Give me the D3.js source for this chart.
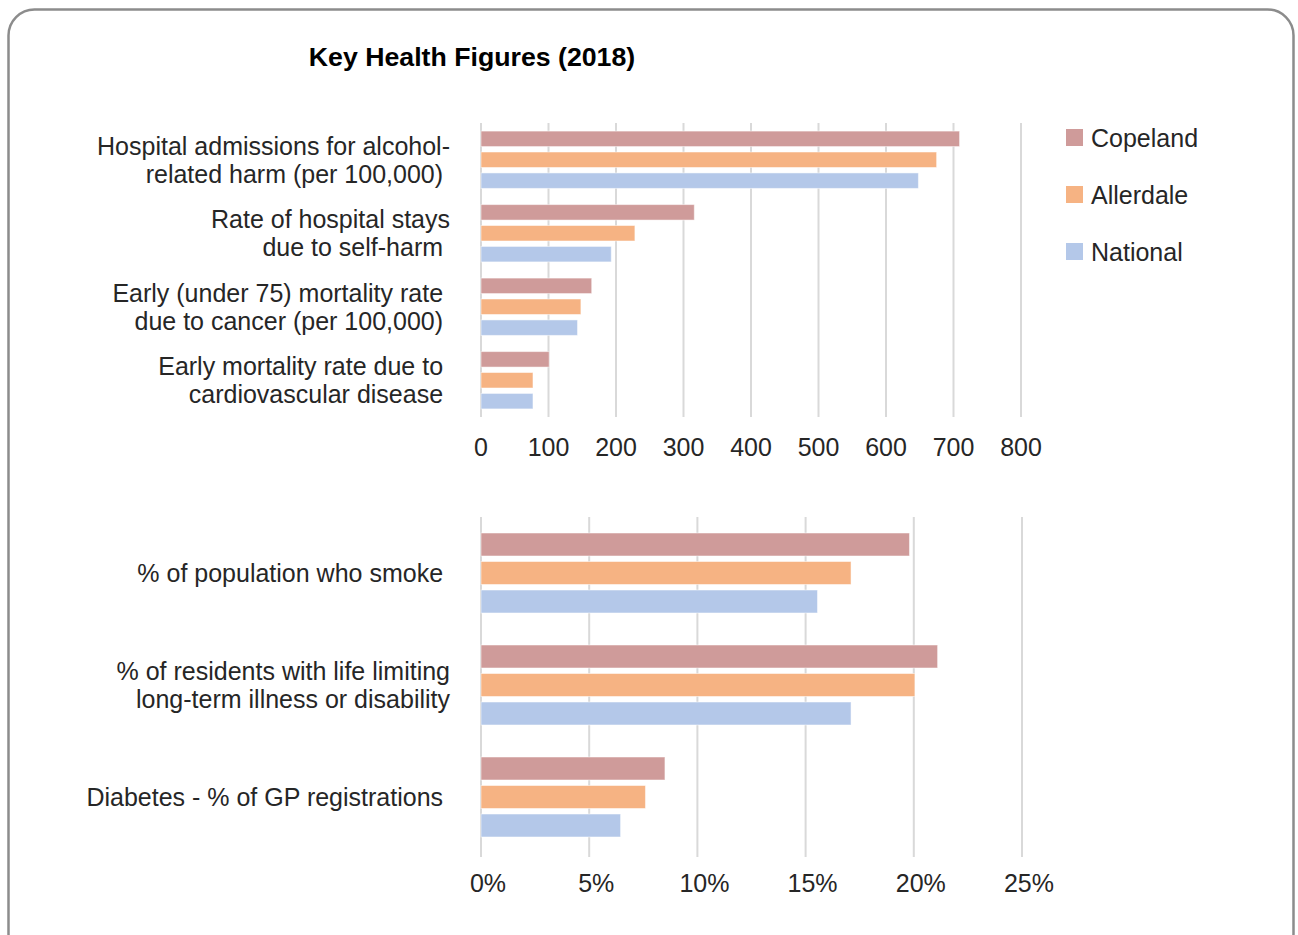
<!DOCTYPE html>
<html>
<head>
<meta charset="utf-8">
<script src="https://cdn.jsdelivr.net/npm/d3@7"></script>
<style>
  body { margin: 0; background: #fff; }
  svg text { font-family: "Liberation Sans", Arial, sans-serif; fill: #262626; white-space: pre; }
</style>
</head>
<body>
<svg id="chart" width="1298" height="935"></svg>
<script>
var series = ["Copeland", "Allerdale", "National"];
var colors = ["#cf9b9a", "#f6b383", "#b4c8e9"];

// top panel: rates
var rateLabels = [
  ["Hospital admissions for alcohol-", "related harm (per 100,000) "],
  ["Rate of hospital stays", "due to self-harm "],
  ["Early (under 75) mortality rate ", "due to cancer (per 100,000) "],
  ["Early mortality rate due to ", "cardiovascular disease "]
];
var rateCopeland = [709, 316, 164, 101];
var rateAllerdale = [675, 228, 148, 77];
var rateNational = [648, 193, 143, 77];
var rateTicks = [0, 100, 200, 300, 400, 500, 600, 700, 800];

// bottom panel: percentages
var pctLabels = [
  ["% of population who smoke "],
  ["% of residents with life limiting", "long-term illness or disability"],
  ["Diabetes - % of GP registrations "]
];
var pctCopeland = [19.8, 21.1, 8.5];
var pctAllerdale = [17.1, 20.05, 7.6];
var pctNational = [15.55, 17.1, 6.45];
var pctTicks = [0, 5, 10, 15, 20, 25];

var svg = d3.select("#chart");

svg.append("rect")
    .attr("x", 8.5).attr("y", 9.5)
    .attr("width", 1285).attr("height", 950)
    .attr("rx", 26)
    .attr("fill", "#fff")
    .attr("stroke", "#8c8c8c")
    .attr("stroke-width", 2.5);

svg.append("text")
    .attr("x", 472).attr("y", 66)
    .attr("text-anchor", "middle")
    .style("font-size", "26.7px")
    .style("font-weight", "bold")
    .style("fill", "#000")
    .text("Key Health Figures (2018)");

function panel(opts) {
  var x = d3.scaleLinear().domain(opts.domain).range([481, opts.right]);
  var y0 = d3.scaleBand().domain(d3.range(opts.labels.length))
      .range([opts.top, opts.bandBottom])
      .paddingInner(opts.padIn).paddingOuter(opts.padOut);
  var y1 = d3.scaleBand().domain(d3.range(series.length))
      .range([0, y0.bandwidth()])
      .paddingInner(opts.barPad);

  var g = svg.append("g");

  g.selectAll(".grid")
      .data(opts.ticks)
    .enter().append("line")
      .attr("x1", function(d) { return x(d); })
      .attr("x2", function(d) { return x(d); })
      .attr("y1", opts.top)
      .attr("y2", opts.bottom)
      .attr("stroke", "#d9d9d9")
      .attr("stroke-width", 2);

  g.selectAll(".tick")
      .data(opts.ticks)
    .enter().append("text")
      .attr("x", function(d) { return x(d) + opts.tickShift; })
      .attr("y", opts.tickY)
      .attr("text-anchor", "middle")
      .style("font-size", "25px")
      .text(opts.fmt);

  var groups = g.selectAll(".grp")
      .data(opts.labels)
    .enter().append("g")
      .attr("transform", function(d, i) { return "translate(0," + y0(i) + ")"; });

  groups.selectAll("rect")
      .data(function(d, i) { return opts.values.map(function(v) { return v[i]; }); })
    .enter().append("rect")
      .attr("x", x(0))
      .attr("y", function(d, j) { return y1(j); })
      .attr("width", function(d) { return x(d) - x(0); })
      .attr("height", y1.bandwidth())
      .attr("fill", function(d, j) { return colors[j]; })
      .attr("stroke", "#fff")
      .attr("stroke-opacity", 0.5)
      .attr("stroke-width", 1);

  groups.each(function(lines) {
    var cy = y0.bandwidth() / 2;
    var lh = 28;
    var start = cy - (lines.length - 1) * lh / 2;
    d3.select(this).selectAll("text")
        .data(lines)
      .enter().append("text")
        .attr("x", 450)
        .attr("y", function(d, k) { return start + k * lh; })
        .attr("dy", "0.36em")
        .attr("text-anchor", "end")
        .style("font-size", "25px")
        .text(function(d) { return d; });
  });
}

panel({
  labels: rateLabels,
  values: [rateCopeland, rateAllerdale, rateNational],
  domain: [0, 800], right: 1021,
  top: 123, bottom: 417, bandBottom: 417,
  padIn: 0.22, padOut: 0.11, barPad: 0.26,
  ticks: rateTicks, tickY: 456, tickShift: 0,
  fmt: function(d) { return d; }
});

panel({
  labels: pctLabels,
  values: [pctCopeland, pctAllerdale, pctNational],
  domain: [0, 25], right: 1022,
  top: 517, bottom: 857, bandBottom: 853,
  padIn: 0.2857, padOut: 0.1429, barPad: 0.193,
  ticks: pctTicks, tickY: 892, tickShift: 7,
  fmt: function(d) { return d + "%"; }
});

var legend = svg.append("g").selectAll("g")
    .data(series)
  .enter().append("g")
    .attr("transform", function(d, i) { return "translate(1066," + (129 + i * 57) + ")"; });

legend.append("rect")
    .attr("width", 17).attr("height", 17)
    .attr("fill", function(d, i) { return colors[i]; });

legend.append("text")
    .attr("x", 25).attr("y", 8.5)
    .attr("dy", "0.36em")
    .style("font-size", "25px")
    .text(function(d) { return d; });
</script>
</body>
</html>
